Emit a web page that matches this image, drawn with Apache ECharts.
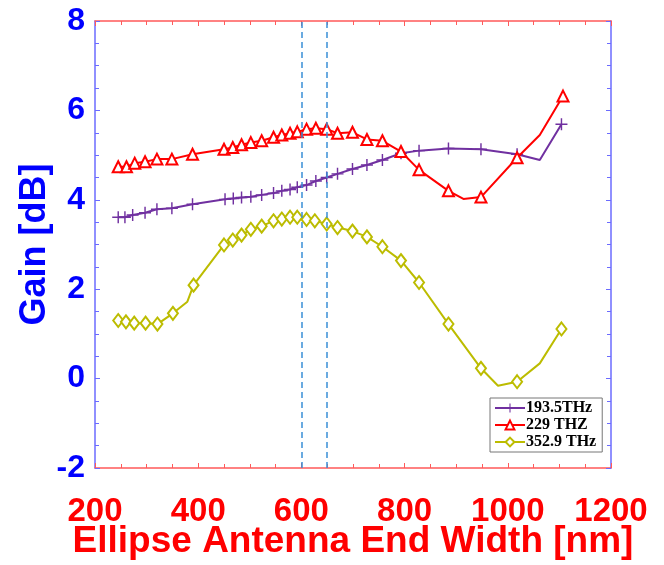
<!DOCTYPE html>
<html lang="en">
<head>
    <meta charset="UTF-8">
    <title>Ellipse Antenna Gain</title>
    <script src="https://cdn.jsdelivr.net/npm/echarts@6/dist/echarts.min.js"></script>
    <style>
        * { margin: 0; padding: 0 }
        html, body { width: 100%; height: 100%; background: #fff; }
        #main { width: 664px; height: 565px; }
    </style>
</head>
<body>
<div id="main"></div>
<script type="text/javascript">
    // 193.5 THz (purple +)
    var x193 = [245, 258, 273, 297, 320, 349, 389, 452, 468, 484, 502, 523, 546, 562, 578, 592, 610, 628, 649, 670, 699, 727, 757, 793, 828, 885, 948, 1018, 1062, 1104];
    var y193 = [3.61, 3.61, 3.66, 3.71, 3.79, 3.81, 3.90, 4.01, 4.03, 4.05, 4.07, 4.11, 4.15, 4.20, 4.23, 4.28, 4.33, 4.42, 4.50, 4.58, 4.69, 4.78, 4.89, 5.04, 5.10, 5.15, 5.13, 5.02, 4.89, 5.69];
    var plain193 = [28];   // vertices drawn without a marker

    // 229 THz (red triangles)
    var x229 = [245, 261, 277, 297, 320, 349, 389, 450, 467, 484, 502, 523, 546, 562, 578, 592, 610, 628, 649, 670, 699, 727, 757, 793, 828, 885, 914, 948, 1018, 1062, 1107];
    var y229 = [4.74, 4.74, 4.82, 4.85, 4.91, 4.91, 5.02, 5.13, 5.17, 5.23, 5.28, 5.32, 5.40, 5.45, 5.49, 5.52, 5.58, 5.60, 5.58, 5.49, 5.51, 5.35, 5.32, 5.08, 4.67, 4.20, 4.02, 4.06, 4.94, 5.45, 6.32];
    var plain229 = [26, 29];

    // 352.9 THz (yellow diamonds)
    var x353 = [245, 260, 276, 298, 321, 351, 379, 391, 450, 467, 484, 502, 523, 546, 562, 578, 592, 610, 626, 649, 670, 699, 727, 757, 793, 828, 885, 948, 981, 1018, 1062, 1104];
    var y353 = [1.30, 1.27, 1.24, 1.24, 1.22, 1.46, 1.72, 2.09, 2.99, 3.10, 3.21, 3.34, 3.41, 3.53, 3.57, 3.61, 3.61, 3.56, 3.53, 3.46, 3.38, 3.30, 3.17, 2.95, 2.64, 2.15, 1.22, 0.23, -0.16, -0.07, 0.34, 1.11];
    var plain353 = [6, 28, 30];

    var seriesNames = ['193.5THz', '229 THZ', '352.9 THz'];
    var dashedX = [600, 650];

    var crossPath = 'path://M-0.12,-1L0.12,-1L0.12,-0.12L1,-0.12L1,0.12L0.12,0.12L0.12,1L-0.12,1L-0.12,0.12L-1,0.12L-1,-0.12L-0.12,-0.12Z';

    function pts(xs, ys, plain) {
        return xs.map(function (x, i) {
            var d = { value: [x, ys[i]] };
            if (plain.indexOf(i) >= 0) d.symbol = 'none';
            return d;
        });
    }

    var blue = '#0000ff', red = '#ff0000';
    var axisFont = 'Liberation Sans, Arial, sans-serif';

    function xAx(pos, show) {
        return {
            type: 'value', position: pos, min: 200, max: 1200, interval: 200,
            axisLine: { onZero: false, lineStyle: { color: '#ff5a5a', width: 1.5 } },
            axisTick: { inside: true, length: 5, lineStyle: { color: '#ff5a5a' } },
            minorTick: { show: true, splitNumber: 4, length: 4, lineStyle: { color: '#ff5a5a' } },
            splitLine: { show: false },
            axisLabel: {
                show: show, color: red, fontSize: 33, fontWeight: 'bold', fontFamily: axisFont, margin: 27,
                formatter: function (v) { return String(v); }
            },
            name: show ? 'Ellipse Antenna End Width [nm]' : '',
            nameLocation: 'middle', nameGap: 55, nameMoveOverlap: false,
            nameTextStyle: { color: red, fontSize: 37, fontWeight: 'bold', fontFamily: axisFont }
        };
    }

    function yAx(pos, show) {
        return {
            type: 'value', position: pos, min: -2, max: 8, interval: 2,
            axisLine: { onZero: false, lineStyle: { color: '#6b6bff', width: 1.5 } },
            axisTick: { inside: true, length: 5, lineStyle: { color: '#6b6bff' } },
            minorTick: { show: true, splitNumber: 4, length: 4, lineStyle: { color: '#6b6bff' } },
            splitLine: { show: false },
            axisLabel: {
                show: show, color: blue, fontSize: 32, fontWeight: 'bold', fontFamily: axisFont, margin: 10
            },
            name: show ? 'Gain [dB]' : '',
            nameLocation: 'middle', nameGap: 42, nameMoveOverlap: false,
            nameTextStyle: { color: blue, fontSize: 36, fontWeight: 'bold', fontFamily: axisFont }
        };
    }

    var myChart = echarts.init(document.getElementById('main'));
    var option = {
        animation: false,
        backgroundColor: '#fff',
        grid: { left: 95, top: 21, right: 53, bottom: 97, containLabel: false, outerBoundsMode: 'none' },
        xAxis: [xAx('bottom', true), xAx('top', false)],
        yAxis: [yAx('left', true), yAx('right', false)],
        legend: {
            orient: 'vertical', left: 490, top: 398,
            backgroundColor: '#fff', borderColor: '#777', borderWidth: 1,
            padding: [2, 6, 2, 4], itemGap: 1, itemWidth: 30, itemHeight: 11,
            textStyle: { fontFamily: 'Liberation Serif, Times New Roman, serif', fontWeight: 'bold', fontSize: 16, color: '#000', padding: [0, 0, 0, -4] },
            data: seriesNames
        },
        series: [
            {
                name: seriesNames[0], type: 'line', z: 3,
                data: pts(x193, y193, plain193),
                symbol: crossPath, symbolSize: 12,
                itemStyle: { color: '#7030a0' },
                lineStyle: { color: '#7030a0', width: 2 },
                markLine: {
                    silent: true, symbol: 'none', label: { show: false },
                    lineStyle: { color: '#3a8ed6', type: [6, 4], width: 1.5 },
                    data: dashedX.map(function (v) { return { xAxis: v }; })
                }
            },
            {
                name: seriesNames[1], type: 'line', z: 4,
                data: pts(x229, y229, plain229),
                symbol: 'emptyTriangle', symbolSize: 11,
                itemStyle: { color: red, borderWidth: 2 },
                lineStyle: { color: red, width: 2 }
            },
            {
                name: seriesNames[2], type: 'line', z: 2,
                data: pts(x353, y353, plain353),
                symbol: 'emptyDiamond', symbolSize: [10, 13],
                itemStyle: { color: '#bcbc00', borderWidth: 2 },
                lineStyle: { color: '#bcbc00', width: 2 }
            }
        ]
    };
    myChart.setOption(option);
</script>
</body>
</html>
